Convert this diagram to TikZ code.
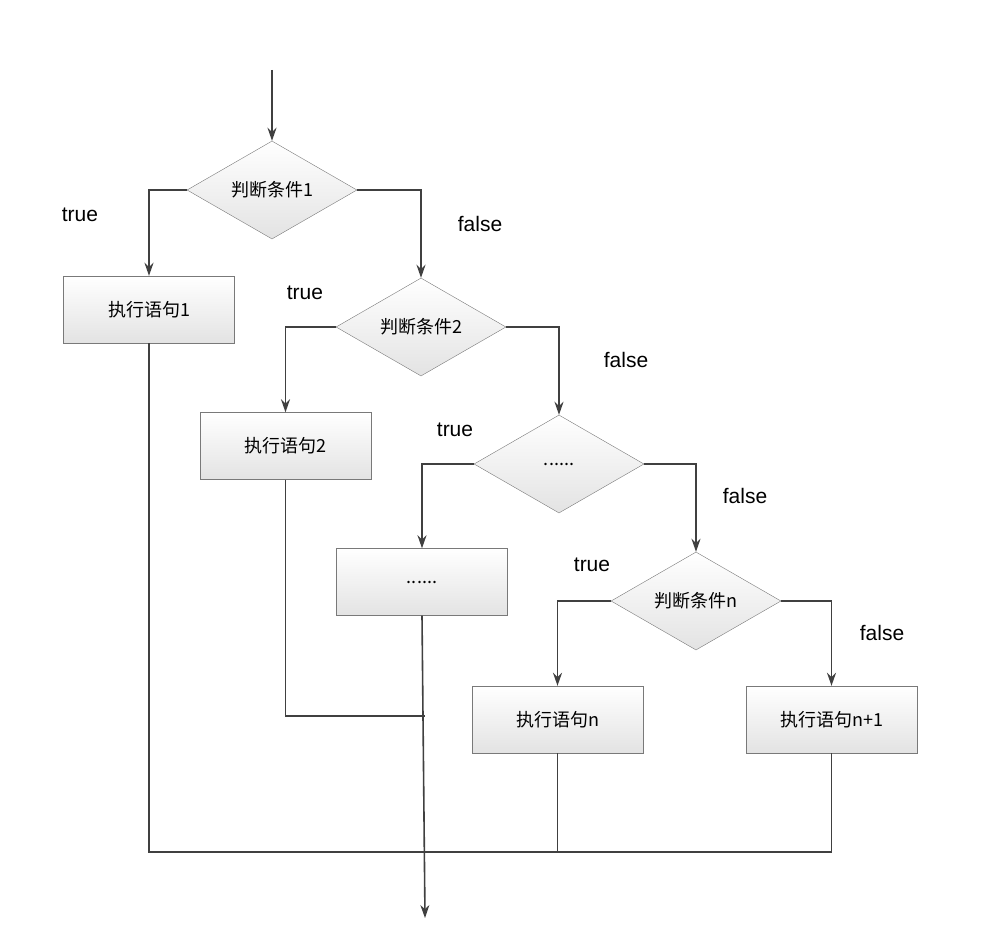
\documentclass[tikz,border=0pt]{standalone}
\usepackage{fontspec}
\setmainfont{Liberation Sans}
\newfontfamily\cjk{Noto Sans CJK SC}
\usetikzlibrary{shapes.geometric,arrows.meta}
\definecolor{ln}{gray}{0.25}
\tikzset{
 box/.style={draw=ln!70,rectangle,minimum width=171pt,minimum height=67pt,top color=white,bottom color=gray!22,font=\cjk\fontsize{18}{20}\selectfont},
 dia/.style={draw=ln!70,diamond,minimum width=170pt,minimum height=98pt,aspect=1.73,inner sep=0pt,top color=white,bottom color=gray!22,font=\cjk\fontsize{18}{20}\selectfont},
 ar/.style={draw=ln,line width=1.6pt,-{Stealth[length=13pt,width=9pt]}},
 ln/.style={draw=ln,line width=1.6pt},
 lab/.style={font=\fontsize{21}{24}\selectfont,text=black}
}
\begin{document}
\begin{tikzpicture}[x=1pt,y=-1pt]
\useasboundingbox (0,0) rectangle (982,939);
\node[dia] (d1) at (272,190) {判断条件1};
\node[box] (b1) at (149,309.5) {执行语句1};
\node[dia] (d2) at (421,327) {判断条件2};
\node[box] (b2) at (285.5,446) {执行语句2};
\node[dia] (d3) at (559,464) {......};
\node[box] (b3) at (422,582) {......};
\node[dia] (d4) at (696,601) {判断条件n};
\node[box] (bn) at (557.5,719.5) {执行语句n};
\node[box] (bm) at (831.5,719.5) {执行语句n+1};
\coordinate (top) at (272,70);
\coordinate (bot) at (425,918);
\coordinate (j1) at (425,852);
\coordinate (j2) at (425,716);
\path[ar] (top) -- (d1.north);
\path[ar] (d1.west) -| (b1.north);
\path[ar] (d1.east) -| (d2.north);
\path[ar] (d2.west) -| (b2.north);
\path[ar] (d2.east) -| (d3.north);
\path[ar] (d3.west) -| (b3.north);
\path[ar] (d3.east) -| (d4.north);
\path[ar] (d4.west) -| (bn.north);
\path[ar] (d4.east) -| (bm.north);
\path[ln] (b1.south) |- (j1);
\path[ln] (bm.south) |- (j1);
\path[ln] (bn.south) -- (bn.south |- j1);
\path[ln] (b2.south) |- (j2);
\path[ar] (b3.south) -- (bot);
\node[lab] (t1) at (80,215) {true};
\node[lab] (f1) at (480,224) {false};
\node[lab] (t2) at (305,293) {true};
\node[lab] (f2) at (626,360) {false};
\node[lab] (t3) at (455,430) {true};
\node[lab] (f3) at (745,496) {false};
\node[lab] (t4) at (592,565) {true};
\node[lab] (f4) at (882,633) {false};
\end{tikzpicture}
\end{document}
